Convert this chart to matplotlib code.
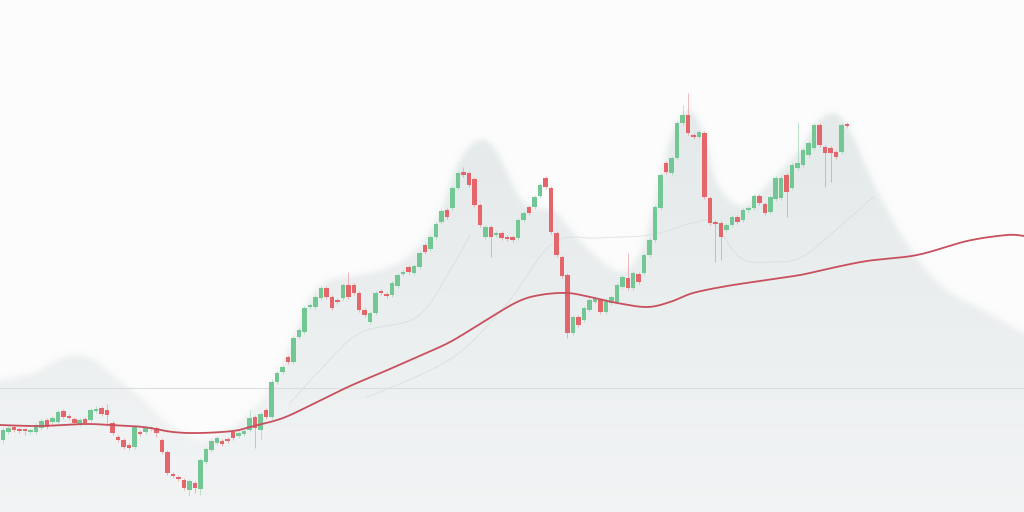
import numpy as np
import matplotlib
matplotlib.use("Agg")
import matplotlib.pyplot as plt
from matplotlib.colors import to_rgb

# ---------------- data (price units) ----------------
opens = [72, 80, 85, 83, 82, 80, 80, 84, 92, 90,
         90, 101, 96, 93, 88, 93, 92, 101, 104, 102,
         89, 75, 72, 67, 65, 80, 80, 83, 84, 72,
         60, 38, 35, 32, 22, 29, 23, 50, 62, 69,
         71, 73, 80, 76, 78, 82, 95, 82, 102, 95,
         130, 140, 155, 150, 175, 180, 205, 205, 214, 224,
         215, 212, 214, 227, 227, 219, 202, 190, 199, 221,
         218, 217, 226, 238, 245, 239, 245, 267, 263, 275,
         290, 302, 304, 324, 340, 339, 333, 307, 275, 285,
         277, 279, 275, 275, 274, 292, 305, 305, 316, 334,
         324, 279, 255, 237, 179, 195, 192, 202, 210, 212,
         200, 209, 210, 225, 234, 224, 238, 239, 257, 272,
         304, 349, 339, 354, 389, 397, 377, 375, 379, 314,
         290, 289, 282, 287, 295, 292, 302, 304, 316, 308,
         300, 313, 314, 337, 324, 344, 347, 357, 364, 387,
         365, 364, 360, 360, 388]
closes = [82, 84, 82, 81, 81, 81, 87, 91, 85, 94,
          100, 95, 94, 89, 92, 89, 102, 103, 98, 97,
          79, 72, 65, 64, 85, 78, 85, 84, 79, 60,
          39, 36, 33, 24, 31, 24, 52, 63, 71, 74,
          68, 71, 74, 79, 81, 94, 84, 98, 95, 130,
          139, 145, 150, 174, 182, 204, 207, 215, 224, 215,
          204, 210, 227, 215, 219, 202, 197, 199, 219, 219,
          216, 229, 237, 240, 240, 246, 259, 260, 275, 288,
          301, 295, 324, 339, 337, 327, 307, 287, 285, 275,
          279, 274, 273, 272, 292, 299, 299, 315, 327, 325,
          280, 257, 236, 179, 195, 187, 204, 212, 214, 200,
          212, 215, 227, 235, 224, 239, 230, 257, 272, 305,
          337, 340, 354, 389, 397, 379, 375, 380, 315, 289,
          288, 275, 287, 295, 290, 302, 304, 316, 309, 299,
          315, 334, 334, 320, 347, 349, 362, 369, 387, 367,
          359, 359, 355, 387, 386]
highs = [85, 86, 87, 85, 84, 83, 89, 93, 94, 96,
         102, 103, 98, 95, 94, 95, 104, 106, 106, 108,
         91, 77, 74, 69, 87, 82, 87, 86, 86, 74,
         62, 40, 37, 34, 33, 31, 54, 65, 73, 76,
         73, 75, 82, 81, 83, 102, 97, 100, 104, 133,
         141, 147, 157, 176, 184, 206, 209, 217, 226, 226,
         217, 214, 229, 240, 229, 221, 204, 201, 221, 223,
         220, 231, 239, 242, 247, 248, 261, 269, 277, 290,
         303, 304, 326, 341, 345, 341, 335, 309, 287, 287,
         281, 281, 277, 277, 294, 301, 307, 317, 329, 336,
         326, 281, 257, 239, 197, 197, 206, 214, 216, 214,
         214, 217, 229, 237, 259, 241, 240, 259, 274, 307,
         339, 351, 356, 391, 407, 419, 379, 382, 381, 316,
         292, 291, 289, 297, 297, 304, 306, 318, 318, 310,
         317, 336, 336, 339, 349, 390, 364, 371, 389, 389,
         367, 366, 362, 389, 390]
lows = [69, 78, 80, 79, 77, 78, 78, 82, 83, 88,
        88, 93, 92, 87, 86, 87, 90, 99, 96, 86,
        77, 70, 63, 62, 63, 76, 78, 81, 75, 58,
        37, 34, 31, 22, 16, 19, 17, 48, 60, 67,
        66, 69, 72, 74, 76, 80, 64, 72, 93, 93,
        128, 138, 148, 148, 173, 178, 203, 203, 212, 213,
        202, 208, 212, 213, 217, 200, 195, 188, 197, 217,
        214, 215, 224, 236, 238, 237, 243, 258, 261, 273,
        288, 293, 302, 322, 335, 325, 305, 285, 273, 255,
        275, 272, 271, 270, 272, 290, 297, 303, 314, 323,
        278, 255, 234, 174, 177, 185, 190, 200, 208, 198,
        198, 207, 208, 223, 222, 222, 228, 237, 255, 270,
        302, 338, 337, 352, 387, 377, 373, 373, 313, 287,
        250, 252, 280, 285, 288, 290, 300, 302, 307, 297,
        298, 311, 312, 295, 322, 342, 345, 355, 362, 365,
        325, 330, 353, 358, 384]

# moving average (index position, value)
ma_pos = [-0.55, 6.75, 14.60, 19.53, 25.55, 31.02, 35.95, 41.97, 45.07, 51.09,
          57.30, 63.32, 69.34, 75.55, 81.57, 87.59, 93.80, 97.99, 102.92, 107.12,
          112.04, 117.52, 121.72, 125.91, 132.12, 138.14, 145.44, 150.36, 157.66,
          166.79, 175.91, 183.21, 186.31]
ma_val = [87, 86, 88, 87, 85, 80, 79, 81, 85, 94,
          110, 126, 140, 155, 170, 190, 210, 217, 219, 215,
          209, 205, 210, 219, 226, 231, 237, 243, 251,
          257, 271, 277, 276]

# misty upper envelope (index position, value)
band_pos = [-0.55, 5.47, 9.85, 13.50, 16.42, 19.53, 22.63, 25.55, 28.65, 31.02,
            35.95, 41.42, 45.07, 48.72, 52.37, 56.02, 59.67, 65.15, 68.80, 72.45,
            76.09, 79.74, 82.48, 84.85, 87.04, 89.23, 91.61, 94.34, 97.08, 100.73,
            104.38, 108.03, 111.68, 114.42, 117.15, 119.89, 122.08, 124.45, 126.28, 128.10,
            129.93, 132.30, 135.40, 139.96, 145.44, 148.18, 150.91, 153.10, 155.47, 158.21,
            160.95, 164.60, 168.25, 172.81, 178.83, 186.31]
band_val = [132, 139, 152, 157, 152, 139, 125, 112, 95, 85,
            72, 84, 100, 124, 167, 214, 232, 237, 242, 250,
            267, 300, 342, 364, 372, 367, 344, 314, 304, 300,
            277, 257, 242, 244, 272, 332, 377, 400, 397, 372,
            334, 314, 307, 330, 362, 387, 399, 394, 372, 337,
            307, 272, 244, 220, 202, 179]

hline_val = 124

# faint inner band lines
lb1_pos = [52.4, 57.9, 65.1, 75.5, 81.6, 85.2]
lb1_val = [109, 142, 179, 195, 242, 277]
lb2_pos = [66.4, 76.1, 83.9, 92.5, 100.4, 108.9, 118.1, 125.9, 129.6, 134.5,
           139.96, 145.4, 150.9, 158.8]
lb2_val = [115, 137, 162, 212, 269, 274, 277, 289, 289, 254,
           250, 254, 277, 315]


def catmull_rom(px, py, n=24):
    px = np.asarray(px, float)
    py = np.asarray(py, float)
    P = np.column_stack([px, py])
    P = np.vstack([P[0], P, P[-1]])
    out = []
    t = np.linspace(0, 1, n, endpoint=False)[:, None]
    for i in range(1, len(P) - 2):
        p0, p1, p2, p3 = P[i - 1], P[i], P[i + 1], P[i + 2]
        seg = 0.5 * ((2 * p1) + (-p0 + p2) * t + (2 * p0 - 5 * p1 + 4 * p2 - p3) * t ** 2
                     + (-p0 + 3 * p1 - 3 * p2 + p3) * t ** 3)
        out.append(seg)
    out.append(P[-2][None, :])
    out = np.vstack(out)
    return out[:, 0], out[:, 1]


def box_blur(a, r, axis):
    k = np.ones(2 * r + 1) / (2 * r + 1)
    pad = [(0, 0), (0, 0)]
    pad[axis] = (r, r)
    ap = np.pad(a, pad, mode="edge")
    return np.apply_along_axis(lambda v: np.convolve(v, k, mode="valid"), axis, ap)


# ---------------- drawing ----------------
W, H = 1024, 512
bg = "#fcfcfc"
fig = plt.figure(figsize=(W / 100, H / 100), dpi=100)
fig.patch.set_facecolor(bg)
ax = fig.add_axes([0, 0, 1, 1])
ax.set_facecolor(bg)
x0, x1 = -0.55, 186.3

# misty mountains as a soft image
bx, by = catmull_rom(band_pos, band_val, n=12)
xs = np.linspace(x0, x1, W)
ys = np.linspace(0, H, H)
top = np.interp(xs, bx, by)
Y = ys[:, None]
mask = (Y <= top[None, :]).astype(float)
for _ in range(2):
    mask = box_blur(mask, 3, 0)
    mask = box_blur(mask, 3, 1)
strength = 0.42 + 0.58 * np.clip(Y / 400.0, 0, 1)
a = mask * strength
bgc = np.array(to_rgb(bg))
mist = np.array(to_rgb("#e4e9ea"))
img = bgc[None, None, :] * (1 - a[..., None]) + mist[None, None, :] * a[..., None]
ax.imshow(img, extent=[x0, x1, 0, H], origin="lower", aspect="auto", zorder=0,
          interpolation="bilinear")
ax.set_xlim(x0, x1)
ax.set_ylim(0, H)
ax.axis("off")

ax.axhline(hline_val, color="#dadede", lw=0.8, zorder=1)
for px, py in ((lb1_pos, lb1_val), (lb2_pos, lb2_val)):
    sx, sy = catmull_rom(px, py)
    ax.plot(sx, sy, color="#d6dbdb", lw=0.7, alpha=0.7, zorder=1)

green, red = "#72c795", "#e4666b"
idx = np.arange(len(opens))
o = np.array(opens, float)
c = np.array(closes, float)
up = c >= o
colors = np.where(up, green, red)
ax.vlines(idx, lows, highs, colors=colors, lw=0.7, alpha=0.45, zorder=2)
bottom = np.minimum(o, c)
height = np.maximum(np.abs(c - o), 1.6)
ax.bar(idx, height, bottom=bottom, width=0.82, color=colors, edgecolor="none", zorder=3)

mx, my = catmull_rom(ma_pos, ma_val)
ax.plot(mx, my, color="#c8505d", lw=1.3, zorder=4, solid_capstyle="round")

fig.savefig("out.png", dpi=100, facecolor=fig.get_facecolor())
